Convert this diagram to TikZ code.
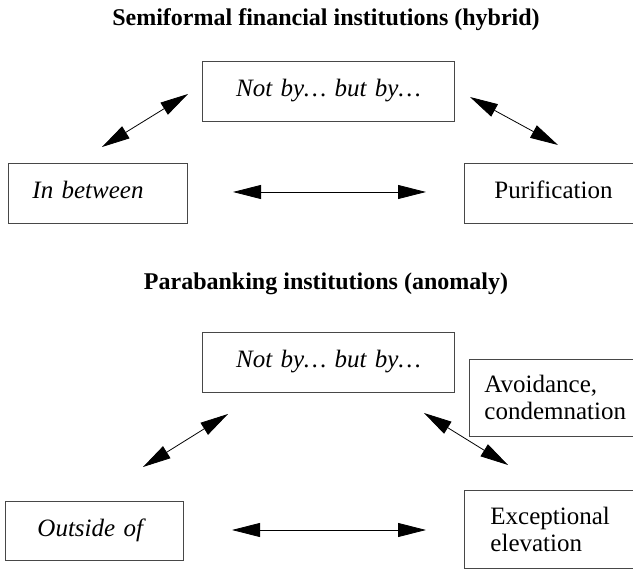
\documentclass[tikz,border=0pt]{standalone}
\usepackage{fontspec}
\setmainfont{Liberation Serif}
\usetikzlibrary{arrows.meta}
\tikzset{
  box/.style={draw=black!72, line width=0.9pt, rectangle, anchor=north west,
    inner ysep=0pt, font=\fontsize{25}{27}\selectfont},
  title/.style={anchor=base, font=\fontsize{24}{28}\selectfont\bfseries},
  link/.style={line width=0.8pt, {Triangle[length=28pt,width=14pt]}-{Triangle[length=28pt,width=14pt]}}
}
\begin{document}
\begin{tikzpicture}[x=1pt,y=1pt]
\useasboundingbox (0,0) rectangle (633,-569);
\clip (0,0) rectangle (633,-569);
% upper diagram
\node[title] (t1) at (326,-26) {Semiformal financial institutions (hybrid)};
\node[box, minimum height=60pt, inner xsep=10pt, text width=232pt, align=center] (top1) at (202,-61) {\strut\itshape Not by… but by…};
\node[box, minimum height=60pt, inner xsep=24pt, text width=131pt, align=left] (ib) at (8,-163) {\strut\itshape In between};
\node[box, minimum height=60pt, inner xsep=30pt, text width=140pt, align=left] (pur) at (464,-163) {\strut Purification};
\coordinate (a1s) at (188,-94);
\coordinate (a1e) at (102,-147);
\coordinate (a2s) at (470,-97);
\coordinate (a2e) at (558,-145);
\coordinate (h1s) at (233,-192);
\coordinate (h1e) at (426,-192);
\draw[link] (a1s) -- (a1e);
\draw[link] (a2s) -- (a2e);
\draw[link] (h1s) -- (h1e);
% lower diagram
\node[title] (t2) at (326,-290) {Parabanking institutions (anomaly)};
\node[box, minimum height=60pt, inner xsep=10pt, text width=232pt, align=center] (top2) at (202,-332) {\strut\itshape Not by… but by…};
\node[box, minimum height=77pt, inner xsep=15pt, text width=170pt, align=left] (av) at (469,-359) {Avoidance,\\condemnation};
\node[box, minimum height=59pt, inner xsep=32pt, text width=114pt, align=left] (out) at (5,-501) {\strut\itshape Outside of};
\node[box, minimum height=78pt, inner xsep=26pt, text width=148pt, align=left] (exc) at (464,-490) {Exceptional\\elevation};
\coordinate (a3s) at (228,-414);
\coordinate (a3e) at (143,-467);
\coordinate (a4s) at (424,-413);
\coordinate (a4e) at (508,-465);
\coordinate (h2s) at (232,-530);
\coordinate (h2e) at (426,-530);
\draw[link] (a3s) -- (a3e);
\draw[link] (a4s) -- (a4e);
\draw[link] (h2s) -- (h2e);
\end{tikzpicture}
\end{document}
